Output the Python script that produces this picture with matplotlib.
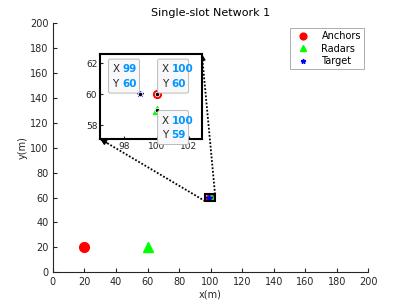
import matplotlib
matplotlib.use("Agg")
from matplotlib import pyplot as plt
from matplotlib.patches import FancyBboxPatch, Rectangle
from matplotlib.lines import Line2D

anchor_x = [20, 100]
anchor_y = [20, 60]
radar_x = [60, 100]
radar_y = [20, 59]
target_x = [99]
target_y = [60]

# zoom window around the target
zoom_x = [96.5, 102.8]
zoom_y = [57.1, 62.6]
tips = [(99, 60, "ul"), (100, 60, "ur"), (100, 59, "lr")]

grey = "#262626"
plt.rcParams["font.family"] = "DejaVu Sans"
plt.rcParams["font.size"] = 7

fig = plt.figure(figsize=(4.07, 3.06), dpi=100)
ax = fig.add_axes([0.13, 0.11, 0.775, 0.815])
ax.set_xlim(0, 200)
ax.set_ylim(0, 200)

zoom_rect = Rectangle((zoom_x[0], zoom_y[0]), zoom_x[1] - zoom_x[0], zoom_y[1] - zoom_y[0],
                      fill=False, ec="black", lw=1.5, zorder=5)
ax.add_patch(zoom_rect)

def draw_points(a, s, clip=None):
    sets = [(anchor_x, anchor_y, "o", "red", 7, "Anchors"),
            (radar_x, radar_y, "^", "#00ff00", 7, "Radars"),
            (target_x, target_y, "*", "blue", 5, "Target")]
    for xs, ys, m, c, ms, lab in sets:
        if clip is None:
            a.plot(xs, ys, m, color=c, ms=ms * s, label=lab)
            continue
        inside = [(x, y) for x, y in zip(xs, ys)
                  if zoom_x[0] <= x <= zoom_x[1] and zoom_y[0] <= y <= zoom_y[1]]
        outside = [(x, y) for x, y in zip(xs, ys) if (x, y) not in inside]
        a.plot([p[0] for p in outside], [p[1] for p in outside], m, color=c,
               ms=ms * s, label=lab)
        ln, = a.plot([p[0] for p in inside], [p[1] for p in inside], m, color=c, ms=ms * s)
        ln.set_clip_path(clip)

draw_points(ax, 1, clip=zoom_rect)
ax.set_xticks(range(0, 201, 20))
ax.set_yticks(range(0, 201, 20))
ax.set_xlabel("x(m)", color=grey, labelpad=2)
ax.set_ylabel("y(m)", color=grey, labelpad=2)
ax.set_title("Single-slot Network 1", fontsize=8, pad=5)
for sp in ["top", "right"]:
    ax.spines[sp].set_visible(False)
for sp in ["left", "bottom"]:
    ax.spines[sp].set_color(grey)
ax.tick_params(direction="in", length=3, colors=grey, labelsize=7, pad=3)
leg = ax.legend(loc="upper right", bbox_to_anchor=(0.995, 0.99), fontsize=7,
                fancybox=False, edgecolor="#888888", handletextpad=0.9,
                handlelength=2.0, borderpad=0.3, borderaxespad=0.3,
                labelspacing=0.25, markerscale=0.7)
leg.get_frame().set_linewidth(0.6)

axin = fig.add_axes([0.246, 0.546, 0.25, 0.278])
draw_points(axin, 0.8)
axin.set_xlim(zoom_x)
axin.set_ylim(zoom_y)
axin.set_xticks([98, 100, 102])
axin.set_yticks([58, 60, 62])
axin.tick_params(direction="in", length=2, colors=grey, labelsize=6.5, pad=2)
for sp in axin.spines.values():
    sp.set_linewidth(1.5)
    sp.set_color("black")

fig.canvas.draw()

# data tips
for tx, ty, where in tips:
    axin.plot(tx, ty, "o", color="black", mec="white", mew=0.6, ms=3.2, zorder=6)
    w, h = 31, 34
    x0 = -w - 1 if where == "ul" else 1
    y0 = 1 if where in ("ul", "ur") else -h - 1
    pt = axin.transData.transform((tx, ty))
    bx = pt[0] + x0
    by = pt[1] + y0
    box = FancyBboxPatch((bx, by), w, h, transform=None,
                         boxstyle="round,pad=0,rounding_size=2",
                         fc="#f8f8fb", ec="#b0b0b0", lw=0.6, zorder=7, clip_on=False)
    fig.patches.append(box)
    for frac, name, val in [(0.70, "X", tx), (0.28, "Y", ty)]:
        fig.text(bx + 4, by + h * frac, name, transform=None, fontsize=7.5,
                 color=grey, va="center", zorder=8)
        fig.text(bx + 14, by + h * frac, "%d" % val, transform=None, fontsize=7.5,
                 color="#0096ff", fontweight="bold", va="center", zorder=8)

# dotted connectors with arrowheads at the inset corners
pairs = [((zoom_x[1], zoom_y[1]), (1, 1)), ((zoom_x[0], zoom_y[0]), (0, 0))]
for start, corner in pairs:
    p0 = ax.transData.transform(start)
    p1 = axin.transAxes.transform(corner)
    fig.add_artist(Line2D([p0[0], p1[0]], [p0[1], p1[1]], transform=None,
                          color="black", lw=1.3, ls=(0, (1, 1)), zorder=9))
    d = p1 - p0
    d = d / (d ** 2).sum() ** 0.5
    q = p1 - d * 8
    ax.annotate("", xy=tuple(p1), xycoords="figure pixels", xytext=tuple(q),
                textcoords="figure pixels", annotation_clip=False,
                arrowprops=dict(arrowstyle="-|>,head_length=0.5,head_width=0.25",
                                color="black", lw=1, shrinkA=0, shrinkB=0))

fig.savefig("out.png", dpi=100)
